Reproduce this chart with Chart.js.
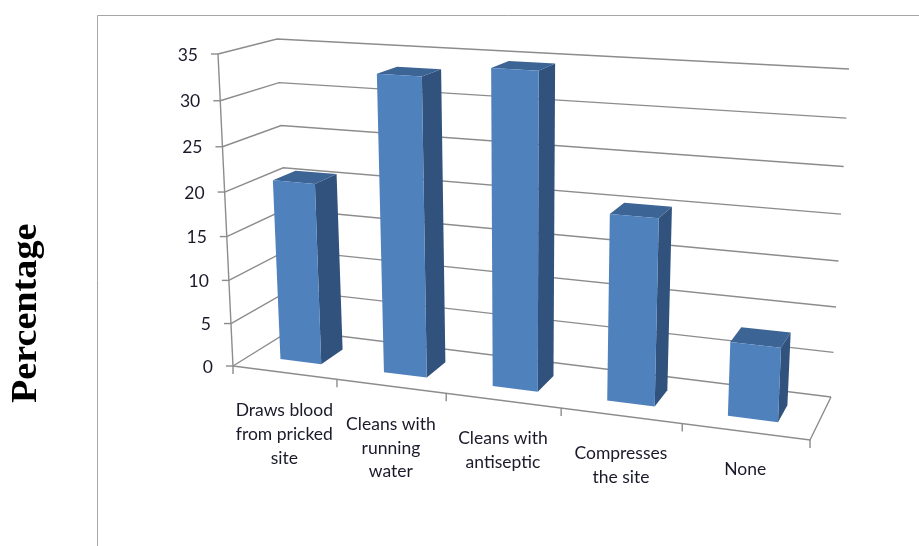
<!DOCTYPE html>
<html>
<head>
<meta charset="utf-8">
<style>
  html, body { margin: 0; padding: 0; background: #fff; overflow: hidden; }
  canvas { display: block; }
</style>
<script src="https://cdn.jsdelivr.net/npm/chart.js@4"></script>
</head>
<body>
<canvas id="chart" width="919" height="546"></canvas>
<script>
const categories = [
  ['Draws blood', 'from pricked', 'site'],
  ['Cleans with', 'running', 'water'],
  ['Cleans with', 'antiseptic'],
  ['Compresses', 'the site'],
  ['None']
];
const percentages = [20.8, 33.3, 34.6, 20.3, 8];
const yTicks = [0, 5, 10, 15, 20, 25, 30, 35];
const yTitle = 'Percentage';

// corners of the 3D box as seen in the picture
const box = {
  frontBottomLeft: [233, 366], frontTopLeft: [218, 54],
  backBottomLeft: [291, 330], backTopLeft: [277, 39],
  frontBottomRight: [810, 440], frontTopRight: [825, 90],
  backBottomRight: [831, 397], backTopRight: [849, 69]
};
const barFront = 0.3, barBack = 0.7;

const warp = (t, k) => t / (t + k * (1 - t));
const mix = (a, b, t) => [a[0] + (b[0] - a[0]) * t, a[1] + (b[1] - a[1]) * t];

// u along the categories, v up the value axis, z into the depth (all 0..1)
const project = (u, v, z) => {
  const wu = warp(u, 1.1375), wv = warp(v, 1.058);
  const front = mix(mix(box.frontBottomLeft, box.frontBottomRight, wu), mix(box.frontTopLeft, box.frontTopRight, wu), wv);
  const back = mix(mix(box.backBottomLeft, box.backBottomRight, wu), mix(box.backTopLeft, box.backTopRight, wu), wv);
  return mix(front, back, z);
};

const poly = (ctx, points, color) => {
  ctx.beginPath();
  points.forEach((p, i) => i ? ctx.lineTo(p[0], p[1]) : ctx.moveTo(p[0], p[1]));
  ctx.closePath();
  ctx.fillStyle = color;
  ctx.fill();
};

const line = (ctx, points) => {
  ctx.beginPath();
  points.forEach((p, i) => i ? ctx.lineTo(p[0], p[1]) : ctx.moveTo(p[0], p[1]));
  ctx.stroke();
};

const bars3d = {
  id: 'bars3d',
  beforeDatasetsDraw(chart) {
    const { ctx, chartArea: area, scales: { x, y } } = chart;
    const toU = (px) => (px - area.left) / area.width;
    const toV = (value) => (area.bottom - y.getPixelForValue(value)) / area.height;

    ctx.save();

    // outer frame
    ctx.strokeStyle = '#a6a6a6';
    ctx.lineWidth = 1;
    line(ctx, [[97.5, 546], [97.5, 15.5], [919, 15.5]]);

    // walls and floor
    ctx.strokeStyle = '#8c8c8c';
    ctx.lineWidth = 1.4;
    yTicks.forEach((tick) => {
      const v = toV(tick);
      line(ctx, [project(0, v, 0), project(0, v, 1), project(1, v, 1)]);
    });
    line(ctx, [project(0, 0, 0), project(1, 0, 0), project(1, 0, 1)]);
    line(ctx, [project(0, 0, 0), project(0, 1, 0)]);

    // axis ticks and labels
    ctx.fillStyle = '#1a1a2a';
    ctx.font = '17.5px Lato';
    ctx.textAlign = 'right';
    ctx.textBaseline = 'middle';
    yTicks.forEach((tick) => {
      const p = project(0, toV(tick), 0);
      line(ctx, [p, [p[0] - 7, p[1]]]);
      ctx.fillText(tick, p[0] - 20, p[1] + 1);
    });

    ctx.textAlign = 'center';
    for (let i = 0; i <= categories.length; i++) {
      const p = project(i / categories.length, 0, 0);
      line(ctx, [p, [p[0], p[1] + 8]]);
    }
    categories.forEach((lines, i) => {
      const p = project(toU(x.getPixelForValue(i)), 0, 0);
      lines.forEach((text, n) => ctx.fillText(text, p[0], p[1] + 38 + n * 23.7));
    });

    // bars, from the elements chart.js laid out
    chart.getDatasetMeta(0).data.forEach((bar) => {
      const left = toU(bar.x - bar.width / 2), right = toU(bar.x + bar.width / 2);
      const top = (area.bottom - bar.y) / area.height;
      poly(ctx, [project(right, 0, barFront), project(right, 0, barBack), project(right, top, barBack), project(right, top, barFront)], '#31527c');
      poly(ctx, [project(left, top, barFront), project(right, top, barFront), project(right, top, barBack), project(left, top, barBack)], '#3c6494');
      poly(ctx, [project(left, 0, barFront), project(right, 0, barFront), project(right, top, barFront), project(left, top, barFront)], '#4f81bd');
    });

    // value axis title
    ctx.translate(36, 403);
    ctx.rotate(-Math.PI / 2);
    ctx.scale(1.06, 1);
    ctx.fillStyle = '#000';
    ctx.font = 'bold 36px "Liberation Serif"';
    ctx.textAlign = 'left';
    ctx.textBaseline = 'alphabetic';
    ctx.fillText(yTitle, 0, 0);

    ctx.restore();
    return false;
  }
};

new Chart(document.getElementById('chart'), {
  type: 'bar',
  data: {
    labels: categories.map((c) => c.join(' ')),
    datasets: [{ data: percentages, categoryPercentage: 1, barPercentage: 0.4 }]
  },
  options: {
    responsive: false,
    animation: false,
    devicePixelRatio: 1,
    scales: {
      x: { display: false },
      y: { display: false, min: 0, max: 35, ticks: { stepSize: 5 } }
    },
    plugins: { legend: { display: false }, tooltip: { enabled: false } }
  },
  plugins: [bars3d]
});
</script>
</body>
</html>
